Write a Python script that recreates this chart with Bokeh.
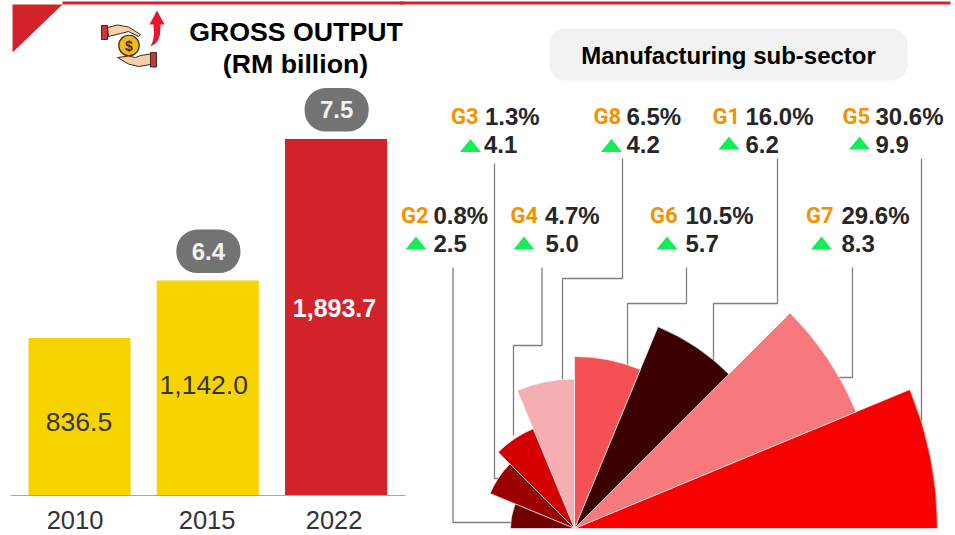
from bokeh.plotting import figure
from bokeh.layouts import row
from bokeh.models import Range1d, ColumnDataSource, FixedTicker
from bokeh.core.properties import value
from bokeh.embed import file_html
from bokeh.resources import INLINE
import numpy as np

# ---- data ----
years = ["2010", "2015", "2022"]
gross_output = [836.5, 1142.0, 1893.7]
gross_labels = ["836.5", "1,142.0", "1,893.7"]
growth_years = ["2015", "2022"]
growth_values = ["6.4", "7.5"]

sector_codes = ["G5", "G7", "G1", "G6", "G8", "G4", "G3", "G2"]
sector_share = ["30.6%", "29.6%", "16.0%", "10.5%", "6.5%", "4.7%", "1.3%", "0.8%"]
sector_growth = ["9.9", "8.3", "6.2", "5.7", "4.2", "5.0", "4.1", "2.5"]
# petal length, in the share units of the largest petal
sector_petal = [30.6, 25.7, 18.4, 14.5, 12.6, 9.1, 7.7, 5.4]

# ---- styles ----
FONT = value("Liberation Sans")
CODE_FONT = value("Roboto")
RED = "#D2222A"
YELLOW = "#F7D300"
PILL = "#737373"
sector_colors = ["#F60000", "#F8797B", "#3B0000", "#F65155", "#F5AEB1", "#D40000", "#9B0000", "#700000"]

W, H = 955, 535
LEFT_END = 404
OVERLAP = 5
AXIS_Y = 495
PX_PER_VALUE = 0.1882
SPACING = 128.25
FIRST = 79

# ================= left figure =================
left = figure(width=LEFT_END, height=H, output_backend="svg", toolbar_location=None,
              x_range=Range1d((10 - FIRST) / SPACING, (LEFT_END - FIRST) / SPACING),
              y_range=Range1d(0, AXIS_Y / PX_PER_VALUE), frame_align=False,
              min_border_left=10, min_border_right=0, min_border_top=0, min_border_bottom=H - AXIS_Y,
              outline_line_color=None, x_axis_location="below", y_axis_location=None)
left.xgrid.visible = False
left.ygrid.visible = False
left.extra_x_ranges["px"] = Range1d(10, LEFT_END)
left.extra_y_ranges["px"] = Range1d(AXIS_Y, 0)
year_pos = list(range(len(years)))
tick_shift = [-0.035, -0.005, -0.015]   # the year labels sit a little left of the bars
tick_pos = [p + s for p, s in zip(year_pos, tick_shift)]
ax = left.xaxis[0]
ax.ticker = FixedTicker(ticks=tick_pos)
ax.major_label_overrides = dict(zip(tick_pos, years))
ax.axis_line_color = "#A6A6A6"
ax.axis_line_width = 1.2
ax.major_tick_line_color = None
ax.minor_tick_line_color = None
ax.major_label_text_font = "Liberation Sans"
ax.major_label_text_font_size = "25.5px"
ax.major_label_text_color = "#333333"
ax.major_label_standoff = 9


def lpx(method, **kw):
    return getattr(left, method)(x_range_name="px", y_range_name="px", **kw)


# corner decoration
lpx("patch", x=[12, 62, 12], y=[4, 4, 52], color=RED, line_width=0)
lpx("quad", left=[62], right=[LEFT_END], top=[1], bottom=[4], color=RED, line_width=0)

# bars
bar_colors = [YELLOW, YELLOW, RED]
src = ColumnDataSource(dict(x=year_pos, top=gross_output, c=bar_colors))
left.vbar(x="x", top="top", bottom=0, width=102 / SPACING, color="c", source=src, line_width=0)

mid = [v / 2 for v in gross_output]
left.text(x=year_pos[:2], y=mid[:2], text=gross_labels[:2], x_offset=[-0.5, -4], y_offset=[5, -3],
          text_align="center", text_baseline="middle", text_font=FONT, text_font_size="26.5px",
          text_color="#333333")
left.text(x=year_pos[2:], y=mid[2:], text=gross_labels[2:], x_offset=[-1.5], y_offset=[-9], text_align="center",
          text_baseline="middle", text_font=FONT, text_font_size="25px", text_font_style="bold",
          text_color="#FFFFFF")

# growth pills above the bars
for yr, txt in zip(growth_years, growth_values):
    i = years.index(yr)
    top_v = gross_output[i]
    cx = i + 0.005
    left.quad(left=[cx - 0.25], right=[cx + 0.25],
              bottom=[top_v + 7.5 / PX_PER_VALUE], top=[top_v + 51 / PX_PER_VALUE],
              color=PILL, line_width=0, border_radius=21)
    left.text(x=[cx], y=[top_v + 29.5 / PX_PER_VALUE], text=[txt], text_align="center",
              text_baseline="middle", text_font=FONT, text_font_size="24px",
              text_font_style="bold", text_color="#F2F2F2")

# title
lpx("text", x=[295.5, 295], y=[31.5, 63.5], text=["GROSS OUTPUT", "(RM billion)"], text_align="center",
    text_baseline="middle", text_font=FONT, text_font_size="26.7px", text_font_style="bold",
    text_color="#000000")

# icon: hands, coin, arrow
OUT = "#3A2A20"
lpx("patch", x=[107, 117, 128, 140, 138, 128, 120, 108],
    y=[27, 24.5, 26.5, 34, 36, 31, 33, 36], fill_color="#F8CFA8", line_color=OUT, line_width=1)
lpx("quad", left=[101], right=[107], top=[25], bottom=[39], fill_color="#C8373A", line_color=OUT, line_width=1)
lpx("patch", x=[150, 140, 135, 128, 117, 128, 138, 150],
    y=[53.5, 55, 57, 55.5, 57, 63.5, 66, 64], fill_color="#F8CFA8", line_color=OUT, line_width=1)
lpx("quad", left=[150], right=[156], top=[52], bottom=[66.5], fill_color="#C8373A", line_color=OUT, line_width=1)
lpx("scatter", x=[128.5], y=[45], size=20.5, marker="circle", fill_color="#F5B90C", line_color=OUT, line_width=1.2)
lpx("text", x=[128.5], y=[45.5], text=["$"], text_align="center", text_baseline="middle",
    text_font=FONT, text_font_size="14px", text_font_style="bold", text_color="#3A2A20")
lpx("patch", x=[149, 156.5, 164, 160, 159.7, 158, 155, 150, 152.5, 153.5, 153, 149],
    y=[24, 10, 24, 24, 33, 39, 43, 46, 40, 33, 24, 24], color="#E5162C", line_width=0)

# ================= right figure =================
K = sector_petal[0] / 363.0   # share units per pixel
CX, CY = 574, 528
R0 = LEFT_END - OVERLAP
right = figure(width=W - R0, height=H, output_backend="svg", toolbar_location=None,
               x_range=Range1d((R0 - CX) * K, (W - CX) * K),
               y_range=Range1d((CY - H) * K, CY * K), frame_align=False,
               min_border=0, outline_line_color=None, x_axis_location=None, y_axis_location=None,
               background_fill_alpha=0, border_fill_alpha=0, margin=(0, 0, 0, -OVERLAP))
right.xgrid.visible = False
right.ygrid.visible = False
right.extra_x_ranges["px"] = Range1d(R0, W)
right.extra_y_ranges["px"] = Range1d(H, 0)


def rpx(method, **kw):
    return getattr(right, method)(x_range_name="px", y_range_name="px", **kw)


rpx("quad", left=[R0], right=[950], top=[1], bottom=[4], color=RED, line_width=0)
rpx("line", x=[R0, 405], y=[AXIS_Y, AXIS_Y], line_color="#A6A6A6", line_width=1.2)

# sub-sector pill
rpx("quad", left=[549], right=[907], top=[28], bottom=[80], color="#F2F2F2", line_width=0, border_radius=16)
rpx("text", x=[728], y=[54.5], text=["Manufacturing sub-sector"], text_align="center", text_baseline="middle",
    text_font=FONT, text_font_size="24px", text_font_style="bold", text_color="#000000")

# leader lines, one per sector
leaders = {
    "G5": ([921, 921], [158, 425]),
    "G7": ([852, 852, 838], [267, 377, 377]),
    "G1": ([777, 777, 713, 713], [158, 303, 303, 365]),
    "G6": ([686, 686, 627, 627], [267, 303, 303, 370]),
    "G8": ([622, 622, 562, 562], [158, 278, 278, 385]),
    "G4": ([541.5, 541.5, 513, 513], [267, 345, 345, 435]),
    "G3": ([494, 494, 502], [163, 478, 478]),
    "G2": ([452.5, 452.5, 515], [267, 522, 522]),
}
for code in sector_codes:
    xs, ys = leaders[code]
    rpx("line", x=xs, y=ys, line_color="#7F7F7F", line_width=1.3)

# rose petals
step = np.pi / len(sector_codes)
starts = [i * step for i in range(len(sector_codes))]
ends = [(i + 1) * step for i in range(len(sector_codes))]
right.wedge(x=0, y=0, radius=sector_petal, start_angle=starts, end_angle=ends,
            fill_color=sector_colors, line_color="#FFFFFF", line_width=0.6)

# labels
code_x = dict(G3=450.5, G8=593, G1=712, G5=842, G2=400.5, G4=510, G6=649.5, G7=805.5)
pct_x = dict(G3=484.5, G8=626, G1=745, G5=875, G2=433, G4=544.5, G6=685, G7=841)
val_x = dict(G3=483.5, G8=626, G1=745, G5=875, G2=433, G4=545, G6=685, G7=841)
tri_x = dict(G3=470, G8=611, G1=728.5, G5=859, G2=415.5, G4=523.5, G6=666.5, G7=821)
tri_base = dict(G3=151.5, G8=151.5, G1=149, G5=149, G2=249, G4=249, G6=249, G7=249)
text_y = dict(G3=116, G8=116, G1=116, G5=116, G2=215, G4=215, G6=215, G7=215)
val_y = dict(G3=144, G8=144, G1=144, G5=144, G2=243, G4=243, G6=243, G7=243)

for code, share, grow in zip(sector_codes, sector_share, sector_growth):
    rpx("text", x=[code_x[code]], y=[text_y[code]], text=[code], text_baseline="middle",
        text_font=CODE_FONT, text_font_size="22px", text_font_style="bold", text_color="#F39200")
    rpx("text", x=[pct_x[code]], y=[text_y[code]], text=[share], text_baseline="middle",
        text_font=FONT, text_font_size="24px", text_font_style="bold", text_color="#262626")
    rpx("text", x=[val_x[code]], y=[val_y[code]], text=[grow], text_baseline="middle",
        text_font=FONT, text_font_size="24px", text_font_style="bold", text_color="#262626")
    tx, by = tri_x[code], tri_base[code]
    rpx("patch", x=[tx - 10.5, tx, tx + 10.5], y=[by, by - 13, by], color="#12EE55", line_width=0)

layout = row(left, right)
open("out.html", "w").write(file_html(layout, INLINE))
